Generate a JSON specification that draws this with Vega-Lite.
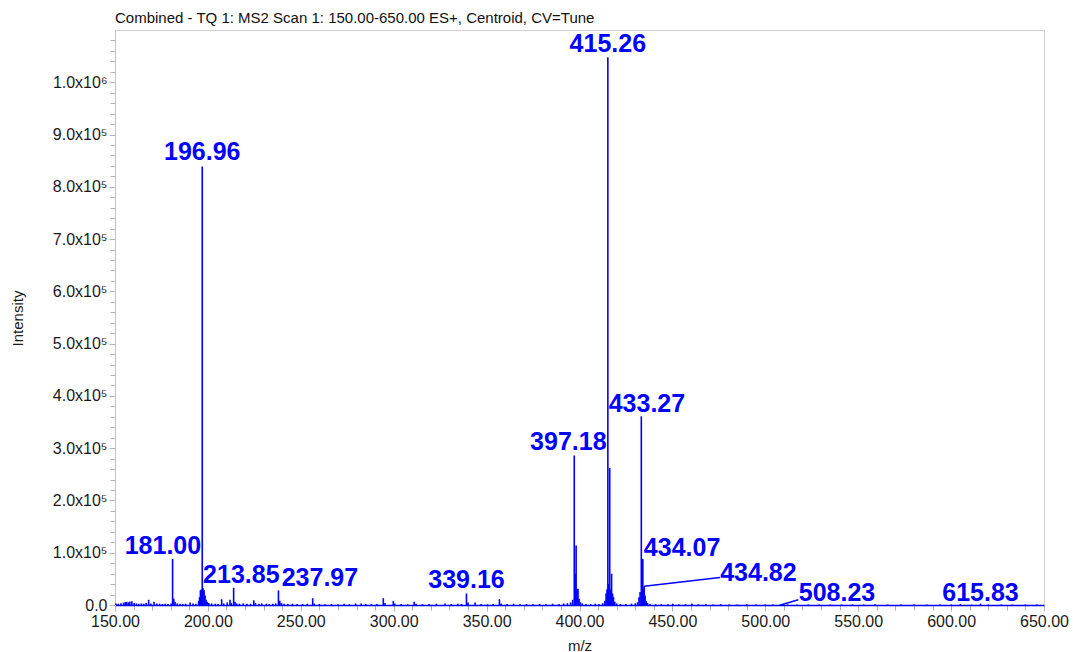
{
  "$schema": "https://vega.github.io/schema/vega-lite/v6.json",
  "width": 929,
  "height": 575,
  "autosize": {"type": "none"},
  "padding": {"left": 115, "top": 30, "right": 29, "bottom": 47},
  "background": "white",
  "title": {
    "text": "Combined - TQ 1: MS2 Scan 1: 150.00-650.00 ES+, Centroid, CV=Tune",
    "anchor": "start",
    "frame": "group",
    "offset": 4,
    "fontSize": 15,
    "fontWeight": "normal",
    "color": "#111111",
    "font": "Liberation Sans"
  },
  "config": {
    "font": "Liberation Sans",
    "view": {"stroke": "#cfcfcf", "strokeWidth": 1}
  },
  "datasets": {
    "peaks": [
      {"mz":150.5,"intensity":3000},{"mz":151.8,"intensity":2500},{"mz":153.2,"intensity":3500},{"mz":154.6,"intensity":4500},
      {"mz":155.5,"intensity":5500},{"mz":156.3,"intensity":6000},{"mz":157.2,"intensity":5000},{"mz":158.0,"intensity":6500},
      {"mz":159.1,"intensity":7000},{"mz":160.3,"intensity":4000},{"mz":161.5,"intensity":3000},{"mz":162.8,"intensity":2500},
      {"mz":164.2,"intensity":3000},{"mz":165.5,"intensity":2500},{"mz":166.8,"intensity":4000},{"mz":168.1,"intensity":10000},
      {"mz":169.3,"intensity":3000},{"mz":171.0,"intensity":6000},{"mz":172.5,"intensity":3000},{"mz":174.0,"intensity":2500},
      {"mz":175.5,"intensity":2000},{"mz":177.0,"intensity":2500},{"mz":178.5,"intensity":2000},{"mz":180.2,"intensity":3000},
      {"mz":181.0,"intensity":88000},{"mz":181.6,"intensity":12000},{"mz":182.3,"intensity":6000},{"mz":183.5,"intensity":3000},
      {"mz":185.0,"intensity":2500},{"mz":186.5,"intensity":2000},{"mz":188.0,"intensity":2500},{"mz":190.4,"intensity":5000},
      {"mz":192.0,"intensity":3000},{"mz":193.5,"intensity":2500},{"mz":195.0,"intensity":8000},{"mz":195.5,"intensity":15000},
      {"mz":195.96,"intensity":28000},{"mz":196.5,"intensity":30000},{"mz":196.96,"intensity":839000},{"mz":197.4,"intensity":32000},
      {"mz":197.96,"intensity":28000},{"mz":198.5,"intensity":18000},{"mz":199.0,"intensity":10000},{"mz":199.6,"intensity":6000},
      {"mz":200.5,"intensity":4000},{"mz":202.0,"intensity":3000},{"mz":204.0,"intensity":2500},{"mz":205.5,"intensity":2000},
      {"mz":207.4,"intensity":11000},{"mz":208.5,"intensity":3000},{"mz":210.4,"intensity":5000},{"mz":211.9,"intensity":10000},
      {"mz":212.6,"intensity":4000},{"mz":213.85,"intensity":33000},{"mz":214.6,"intensity":6000},{"mz":215.5,"intensity":3000},
      {"mz":217.0,"intensity":2500},{"mz":219.0,"intensity":3000},{"mz":221.0,"intensity":2500},{"mz":223.0,"intensity":2500},
      {"mz":224.7,"intensity":9000},{"mz":225.6,"intensity":4000},{"mz":227.5,"intensity":2500},{"mz":229.0,"intensity":3000},
      {"mz":231.5,"intensity":2500},{"mz":233.0,"intensity":2000},{"mz":235.0,"intensity":2500},{"mz":236.5,"intensity":3000},
      {"mz":237.97,"intensity":28000},{"mz":238.7,"intensity":8000},{"mz":239.6,"intensity":4000},{"mz":241.0,"intensity":2500},
      {"mz":243.0,"intensity":2000},{"mz":245.5,"intensity":2500},{"mz":248.0,"intensity":2000},{"mz":251.0,"intensity":2000},
      {"mz":253.5,"intensity":2500},{"mz":256.4,"intensity":13000},{"mz":257.2,"intensity":3000},{"mz":260.0,"intensity":2000},
      {"mz":263.0,"intensity":1500},{"mz":266.5,"intensity":2000},{"mz":270.0,"intensity":1500},{"mz":273.3,"intensity":2500},
      {"mz":276.0,"intensity":1500},{"mz":279.5,"intensity":3000},{"mz":282.5,"intensity":3000},{"mz":285.0,"intensity":2000},
      {"mz":288.0,"intensity":1500},{"mz":291.0,"intensity":2000},{"mz":294.4,"intensity":13000},{"mz":295.3,"intensity":4000},
      {"mz":299.8,"intensity":8000},{"mz":300.6,"intensity":3000},{"mz":304.0,"intensity":2000},{"mz":307.5,"intensity":1500},
      {"mz":311.0,"intensity":6000},{"mz":312.0,"intensity":2500},{"mz":315.5,"intensity":1500},{"mz":319.0,"intensity":2000},
      {"mz":323.0,"intensity":2500},{"mz":327.6,"intensity":3000},{"mz":331.0,"intensity":2000},{"mz":334.5,"intensity":2500},
      {"mz":336.5,"intensity":2000},{"mz":339.16,"intensity":22000},{"mz":340.0,"intensity":5000},{"mz":343.8,"intensity":5000},
      {"mz":347.0,"intensity":2000},{"mz":350.5,"intensity":1500},{"mz":353.5,"intensity":2000},{"mz":356.9,"intensity":11000},
      {"mz":357.8,"intensity":3000},{"mz":361.0,"intensity":2000},{"mz":364.5,"intensity":2500},{"mz":368.0,"intensity":1500},
      {"mz":371.5,"intensity":2000},{"mz":375.0,"intensity":1500},{"mz":378.5,"intensity":2000},{"mz":382.0,"intensity":1500},
      {"mz":385.5,"intensity":2500},{"mz":389.0,"intensity":2000},{"mz":391.5,"intensity":3000},{"mz":393.5,"intensity":3500},
      {"mz":395.2,"intensity":5000},{"mz":396.3,"intensity":10000},{"mz":397.18,"intensity":286000},{"mz":397.7,"intensity":60000},
      {"mz":398.18,"intensity":114000},{"mz":398.7,"intensity":30000},{"mz":399.2,"intensity":31000},{"mz":399.8,"intensity":12000},
      {"mz":400.5,"intensity":5000},{"mz":401.5,"intensity":3000},{"mz":403.5,"intensity":2000},{"mz":406.0,"intensity":2000},
      {"mz":408.5,"intensity":2500},{"mz":410.5,"intensity":2000},{"mz":412.5,"intensity":3500},{"mz":413.6,"intensity":8000},
      {"mz":414.3,"intensity":22000},{"mz":414.8,"intensity":30000},{"mz":415.26,"intensity":1048000},{"mz":415.8,"intensity":40000},
      {"mz":416.26,"intensity":262000},{"mz":416.8,"intensity":30000},{"mz":417.27,"intensity":60000},{"mz":417.8,"intensity":22000},
      {"mz":418.3,"intensity":15000},{"mz":419.0,"intensity":6000},{"mz":420.0,"intensity":3000},{"mz":422.0,"intensity":2000},
      {"mz":425.0,"intensity":2000},{"mz":428.0,"intensity":2500},{"mz":430.0,"intensity":3000},{"mz":431.2,"intensity":5000},
      {"mz":432.0,"intensity":15000},{"mz":432.6,"intensity":25000},{"mz":433.27,"intensity":361000},{"mz":433.7,"intensity":30000},
      {"mz":434.07,"intensity":88000},{"mz":434.5,"intensity":30000},{"mz":434.82,"intensity":36000},{"mz":435.3,"intensity":18000},
      {"mz":435.9,"intensity":8000},{"mz":436.6,"intensity":4000},{"mz":438.0,"intensity":2000},{"mz":441.0,"intensity":1500},
      {"mz":444.0,"intensity":1500},{"mz":447.5,"intensity":1500},{"mz":450.2,"intensity":2500},{"mz":453.5,"intensity":1500},
      {"mz":457.0,"intensity":1500},{"mz":460.5,"intensity":3000},{"mz":464.0,"intensity":1500},{"mz":468.0,"intensity":1500},
      {"mz":472.0,"intensity":1000},{"mz":476.0,"intensity":1500},{"mz":480.5,"intensity":1000},{"mz":485.0,"intensity":1000},
      {"mz":490.0,"intensity":1500},{"mz":495.0,"intensity":1000},{"mz":500.0,"intensity":1000},{"mz":504.0,"intensity":1000},
      {"mz":508.23,"intensity":1500},{"mz":512.0,"intensity":1000},{"mz":517.0,"intensity":1000},{"mz":523.0,"intensity":1000},
      {"mz":529.0,"intensity":1000},{"mz":535.0,"intensity":1000},{"mz":541.0,"intensity":1000},{"mz":547.0,"intensity":1000},
      {"mz":553.0,"intensity":1000},{"mz":559.0,"intensity":1500},{"mz":566.0,"intensity":1000},{"mz":573.0,"intensity":1000},
      {"mz":580.0,"intensity":1000},{"mz":587.0,"intensity":1000},{"mz":594.0,"intensity":1000},{"mz":600.0,"intensity":1000},
      {"mz":605.0,"intensity":1500},{"mz":611.0,"intensity":1000},{"mz":615.83,"intensity":2500},{"mz":620.0,"intensity":1000},
      {"mz":627.0,"intensity":1000},{"mz":633.0,"intensity":1000},{"mz":640.0,"intensity":1000},{"mz":646.0,"intensity":1000}
    ],
    "labels": [
      {"label":"415.26","lx":415.26,"ly":1057000},
      {"label":"196.96","lx":196.96,"ly":851000},
      {"label":"181.00","lx":175.8,"ly":97500},
      {"label":"213.85","lx":218.0,"ly":42500},
      {"label":"237.97","lx":260.3,"ly":37300},
      {"label":"339.16","lx":339.16,"ly":31600},
      {"label":"397.18","lx":394.0,"ly":295700},
      {"label":"433.27","lx":436.3,"ly":369000},
      {"label":"434.07","lx":455.2,"ly":92800},
      {"label":"434.82","lx":496.3,"ly":45000},
      {"label":"508.23","lx":538.6,"ly":8600},
      {"label":"615.83","lx":615.83,"ly":8600}
    ],
    "leaders": [
      {"mz":434.82,"intensity":36000,"mz2":475.6,"intensity2":52600},
      {"mz":508.23,"intensity":0,"mz2":517.8,"intensity2":10000}
    ]
  },
  "layer": [
    {
      "data": {"name": "peaks"},
      "mark": {"type": "rule", "color": "#0000ff", "strokeWidth": 1.6},
      "encoding": {
        "x": {
          "field": "mz", "type": "quantitative",
          "scale": {"domain": [150, 650], "nice": false, "zero": false},
          "axis": {
            "title": "m/z",
            "tickCount": 1000,
            "values": [150,160,170,180,190,200,210,220,230,240,250,260,270,280,290,300,310,320,330,340,350,360,370,380,390,400,410,420,430,440,450,460,470,480,490,500,510,520,530,540,550,560,570,580,590,600,610,620,630,640,650],
            "labelExpr": "datum.value % 50 === 0 ? format(datum.value, '.2f') : ''",
            "labelOverlap": false,
            "labelFlush": false,
            "labelFontSize": 16,
            "labelColor": "#1a1a1a",
            "labelPadding": 2,
            "tickColor": "#b4b4b4",
            "tickSize": {"condition": {"test": "datum.value % 50 === 0", "value": 6}, "value": 5},
            "domainColor": "#0000ff",
            "domainWidth": 1.5,
            "grid": false,
            "titleFontSize": 15,
            "titleFontWeight": "normal",
            "titleColor": "#1a1a1a",
            "titleY": 33,
            "titleBaseline": "top"
          }
        },
        "y": {
          "field": "intensity", "type": "quantitative",
          "scale": {"domain": [0, 1100000], "nice": false},
          "axis": {
            "title": "Intensity",
            "tickCount": 1000,
            "values": [0,20000,40000,60000,80000,100000,120000,140000,160000,180000,200000,220000,240000,260000,280000,300000,320000,340000,360000,380000,400000,420000,440000,460000,480000,500000,520000,540000,560000,580000,600000,620000,640000,660000,680000,700000,720000,740000,760000,780000,800000,820000,840000,860000,880000,900000,920000,940000,960000,980000,1000000,1020000,1040000,1060000,1080000],
            "labelExpr": "datum.value % 100000 !== 0 ? '' : (datum.value === 0 ? '0.0' : (datum.value >= 1000000 ? format(datum.value / 1000000, '.1f') + 'x10⁶' : format(datum.value / 100000, '.1f') + 'x10⁵'))",
            "labelOverlap": false,
            "labelFlush": false,
            "labelFontSize": 16,
            "labelColor": "#1a1a1a",
            "labelPadding": 2,
            "tickColor": "#b4b4b4",
            "tickSize": {"condition": {"test": "datum.value % 100000 === 0", "value": 6}, "value": 5},
            "domainColor": "#c4c4c4",
            "grid": false,
            "titleFontSize": 15,
            "titleFontWeight": "normal",
            "titleColor": "#1a1a1a",
            "titleX": -90,
            "titleY": 288,
            "titleAngle": -90,
            "titleAlign": "center",
            "titleBaseline": "bottom"
          }
        },
        "y2": {"datum": 0}
      }
    },
    {
      "data": {"name": "leaders"},
      "mark": {"type": "rule", "color": "#0000ff", "strokeWidth": 1.6},
      "encoding": {
        "x": {"field": "mz", "type": "quantitative"},
        "y": {"field": "intensity", "type": "quantitative"},
        "x2": {"field": "mz2"},
        "y2": {"field": "intensity2"}
      }
    },
    {
      "data": {"name": "labels"},
      "mark": {"type": "text", "color": "#0000ff", "fontSize": 25, "fontWeight": "bold", "align": "center", "baseline": "alphabetic", "font": "Liberation Sans"},
      "encoding": {
        "x": {"field": "lx", "type": "quantitative"},
        "y": {"field": "ly", "type": "quantitative"},
        "text": {"field": "label"}
      }
    }
  ]
}
